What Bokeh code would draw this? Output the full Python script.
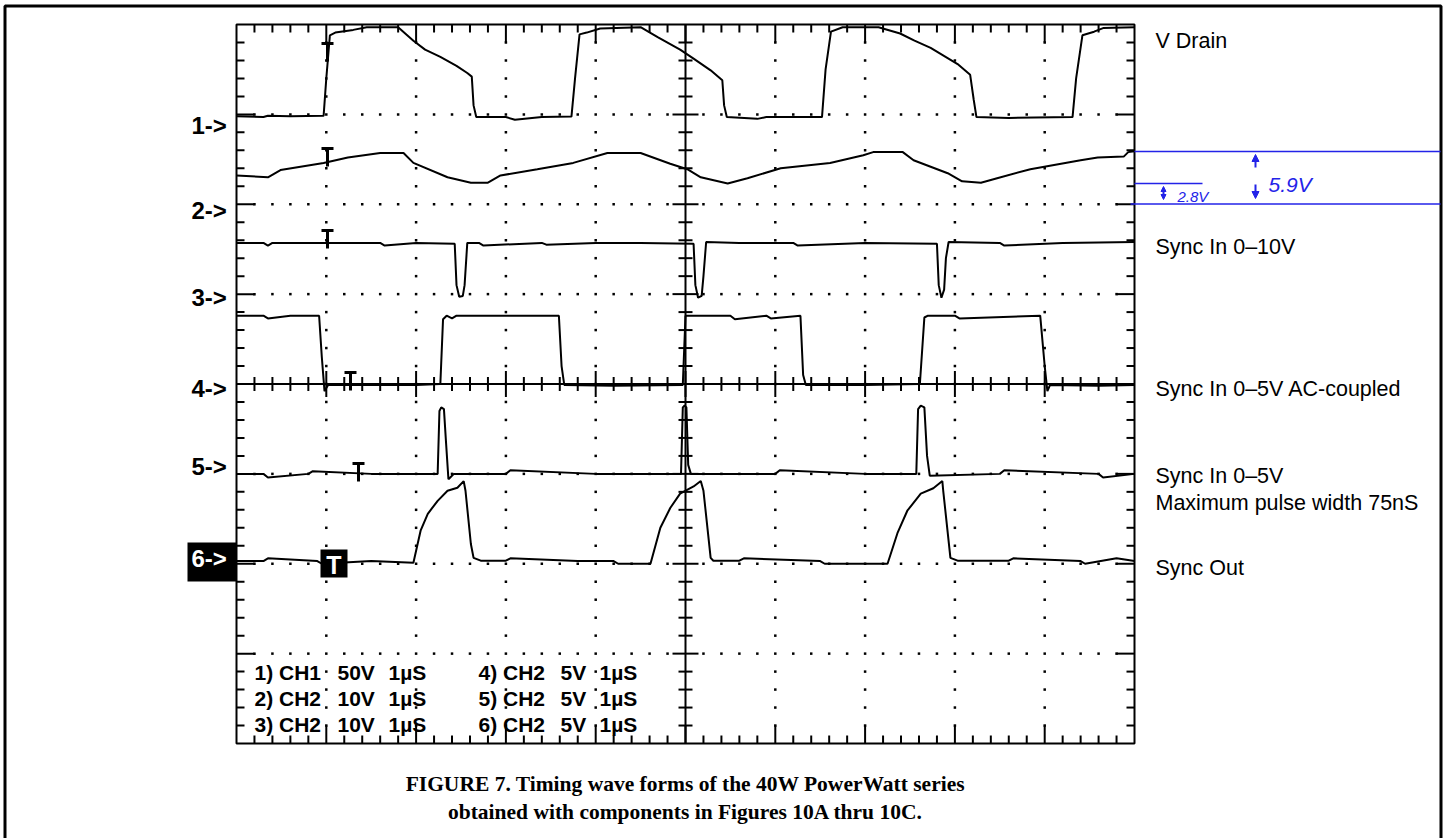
import numpy as np
from bokeh.plotting import figure
from bokeh.models import Range1d, Label, Arrow, NormalHead
from bokeh.embed import file_html
from bokeh.resources import INLINE

# ---------------- data: time in µs (1 µs/div), amplitude in volts ----------------
VOLTS_PER_DIV = [50, 10, 10, 5, 5, 5]

ch1_t = [0.00, 0.30, 0.35, 0.60, 0.97, 1.00, 1.04, 1.10, 1.30, 1.45, 1.80, 1.97, 2.10, 2.27, 2.45,
         2.57, 2.62, 2.64, 2.67, 3.00, 3.10, 3.40, 3.73, 3.77, 3.82, 3.90, 4.05, 4.50, 4.69, 4.94,
         5.09, 5.28, 5.41, 5.43, 5.46, 5.80, 5.90, 6.52, 6.56, 6.62, 6.75, 7.15, 7.39, 7.55, 7.73,
         8.03, 8.17, 8.21, 8.24, 8.60, 9.31, 9.35, 9.42, 9.55, 9.65, 10.00]
ch1_v = [-1.0, -1.5, -0.8, -1.0, -0.8, 20, 44, 45.5, 47, 48.5, 48.5, 41, 36, 32, 27,
         23, 21, 5, -1.5, -1.5, -3, -1.5, -1.2, 20, 44.5, 45.5, 47.8, 48.5, 43, 36,
         31, 24.5, 19, 5, -1.5, -2.5, -1.5, -1.5, 25, 46, 48.5, 48.5, 45, 41, 37,
         28, 22, 8, -1.5, -2.0, -1.5, 20, 44, 46, 48, 48.5]

ch2_t = [0, 0.35, 0.49, 0.97, 1.24, 1.60, 1.86, 1.97, 2.35, 2.61, 2.80, 2.94, 3.35, 3.75, 4.13,
         4.50, 4.83, 5.02, 5.17, 5.47, 5.69, 6.06, 6.61, 6.98, 7.09, 7.42, 7.54, 7.92, 8.08, 8.29,
         8.47, 8.84, 9.40, 9.59, 9.88, 9.93, 10.0]
ch2_v = [3.2, 3.0, 3.8, 4.6, 5.2, 5.7, 5.7, 4.6, 3.0, 2.4, 2.4, 3.2, 3.9, 4.6, 5.7,
         5.7, 4.5, 3.9, 3.0, 2.3, 2.9, 4.0, 4.6, 5.45, 5.8, 5.8, 4.9, 3.45, 2.55, 2.4,
         2.9, 3.9, 4.9, 5.2, 5.3, 5.8, 5.9]

ch3_t = [0, 0.3, 0.35, 0.4, 1.0, 1.6, 1.65, 2.0, 2.43, 2.45, 2.48, 2.52, 2.54, 2.57, 2.7,
         2.75, 3.4, 3.45, 4.0, 4.5, 5.09, 5.11, 5.14, 5.18, 5.20, 5.23, 5.6, 6.2, 6.25, 7.0,
         7.80, 7.82, 7.85, 7.88, 7.90, 7.93, 8.5, 8.55, 9.2, 10.0]
ch3_v = [5.7, 5.7, 5.4, 5.7, 5.7, 5.7, 5.4, 5.7, 5.6, 1.0, -0.3, -0.2, 1.0, 5.7, 5.7,
         5.4, 5.7, 5.5, 5.7, 5.7, 5.6, 1.0, -0.4, -0.2, 2.0, 5.8, 5.7, 5.7, 5.4, 5.7,
         5.6, 1.0, -0.4, 0.5, 4.0, 5.8, 5.7, 5.4, 5.7, 5.8]

ch4_t = [0, 0.3, 0.35, 0.6, 0.92, 0.95, 0.98, 1.02, 1.6, 2.0, 2.27, 2.30, 2.34, 2.40, 2.45,
         2.9, 3.59, 3.62, 3.65, 4.2, 4.97, 5.00, 5.5, 5.55, 5.9, 5.95, 6.28, 6.31, 6.34, 7.0,
         7.61, 7.66, 7.70, 8.0, 8.05, 8.95, 9.00, 9.03, 9.06, 9.6, 10.0]
ch4_v = [3.8, 3.8, 3.65, 3.8, 3.8, 1.5, -0.4, -0.05, -0.05, -0.05, 0.0, 3.6, 3.8, 3.65, 3.8,
         3.8, 3.8, 1.0, -0.05, -0.1, -0.05, 3.8, 3.8, 3.6, 3.8, 3.65, 3.8, 0.5, -0.05, -0.05,
         0.0, 3.7, 3.8, 3.8, 3.65, 3.8, 1.0, -0.4, -0.05, -0.1, -0.05]

ch5_t = [0, 0.3, 0.35, 0.8, 0.85, 1.5, 2.24, 2.26, 2.28, 2.31, 2.33, 2.36, 2.38, 2.42, 3.0,
         3.05, 4.0, 4.95, 4.97, 4.99, 5.01, 5.03, 5.06, 6.0, 6.05, 7.0, 7.57, 7.59, 7.62, 7.66,
         7.69, 7.72, 8.5, 8.55, 9.6, 9.65, 10.0]
ch5_v = [0.0, 0.0, -0.2, 0.0, 0.15, 0.0, 0.0, 3.5, 3.7, 3.6, 2.0, -0.3, -0.2, 0.0, 0.0,
         0.2, 0.0, 0.0, 3.7, 3.8, 3.7, 0.5, 0.0, 0.0, 0.2, 0.0, 0.0, 3.6, 3.8, 3.7,
         1.0, -0.1, 0.0, 0.2, 0.0, -0.2, 0.0]

ch6_t = [0, 0.3, 0.35, 0.9, 0.95, 1.5, 1.97, 2.05, 2.13, 2.24, 2.35, 2.46, 2.53, 2.55, 2.61,
         2.64, 2.72, 3.0, 3.05, 3.8, 4.2, 4.25, 4.61, 4.72, 4.83, 4.94, 5.09, 5.17, 5.20, 5.28,
         5.31, 5.6, 5.65, 6.5, 6.55, 7.25, 7.36, 7.47, 7.62, 7.76, 7.86, 7.87, 7.95, 8.03, 8.6,
         8.65, 9.4, 9.45, 9.8, 10.0]
ch6_v = [0.15, 0.15, 0.3, 0.15, 0.0, 0.15, 0.06, 1.84, 2.78, 3.5, 4.06, 4.23, 4.6, 4.06, 1.1,
         0.33, 0.17, 0.17, 0.3, 0.15, 0.15, 0.0, 0.0, 2.0, 3.1, 3.9, 4.3, 4.6, 4.06, 0.33,
         0.17, 0.17, 0.3, 0.15, 0.0, 0.0, 1.7, 2.95, 3.9, 4.2, 4.6, 4.06, 0.33, 0.17, 0.17,
         0.3, 0.15, 0.0, 0.3, 0.15]

CH_T = [ch1_t, ch2_t, ch3_t, ch4_t, ch5_t, ch6_t]
CH_V = [ch1_v, ch2_v, ch3_v, ch4_v, ch5_v, ch6_v]

MARKER_LABELS = ["1->", "2->", "3->", "4->", "5->", "6->"]
RIGHT_LABELS = ["V Drain", "Sync In 0\u201310V", "Sync In 0\u20135V AC-coupled",
                "Sync In 0\u20135V", "Maximum pulse width 75nS", "Sync Out"]
SET_NAMES = ["1) CH1", "2) CH2", "3) CH2", "4) CH2", "5) CH2", "6) CH2"]
SET_VOLTS = ["50V", "10V", "10V", "5V", "5V", "5V"]
SET_TIME = ["1\u00b5S"] * 6
CAPTION = ["FIGURE 7. Timing wave forms of the 40W PowerWatt series",
           "obtained with components in Figures 10A thru 10C."]
DELTA_BIG, DELTA_SMALL = "5.9V", "2.8V"

# ---------------- layout ----------------
W, H = 1445, 838
SCR_L, SCR_T = 236.0, 24.0          # top-left pixel of the graticule
DX, DY = 89.8, 89.875               # pixels per division
NX, NY = 10, 8
CH_GROUND = [7, 6, 5, 4, 3, 2]      # division row of each channel marker
BLUE = "#2323e8"
INK = "#000000"


def px(x):
    return (x - SCR_L) / DX


def py(y):
    return (SCR_T + NY * DY - y) / DY


p = figure(width=W, height=H, x_range=Range1d(px(0), px(W)), y_range=Range1d(py(H), py(0)),
           x_axis_type=None, y_axis_type=None, toolbar_location=None, output_backend="svg",
           min_border=0, min_border_left=0, min_border_right=0, min_border_top=0,
           min_border_bottom=0, outline_line_color=None,
           background_fill_color="white", border_fill_color="white")

# outer page frame (open at the bottom)
p.line([px(4.5), px(4.5), px(1440.5), px(1440.5)], [py(H + 10), py(5.5), py(5.5), py(H + 10)],
       line_color=INK, line_width=3)

# dotted graticule
gx_, gy_ = [], []
for gx in range(1, NX):
    if gx == NX // 2:
        continue
    for k in range(1, NY * 5):
        gx_.append(gx)
        gy_.append(k * 0.2)
for gy in range(1, NY):
    if gy == NY // 2:
        continue
    for k in range(1, NX * 5):
        if k % 5 == 0:
            continue
        gx_.append(k * 0.2)
        gy_.append(gy)
p.scatter(gx_, gy_, marker="square", size=2.5, fill_color=INK, line_width=0)

# tick marks on edges and centre axes
x0, y0, x1, y1 = [], [], [], []
for k in range(1, NX * 5):
    x = k * 0.2
    L = (18 if k % 5 == 0 else 8) / DY
    c = (13 if k % 5 == 0 else 7) / DY
    x0 += [x, x, x]
    x1 += [x, x, x]
    y0 += [NY, 0, NY / 2 - c]
    y1 += [NY - L, L, NY / 2 + c]
for k in range(1, NY * 5):
    y = k * 0.2
    L = (18 if k % 5 == 0 else 8) / DX
    c = (13 if k % 5 == 0 else 7) / DX
    y0 += [y, y, y]
    y1 += [y, y, y]
    x0 += [0, NX, NX / 2 - c]
    x1 += [L, NX - L, NX / 2 + c]
p.segment(x0, y0, x1, y1, line_color=INK, line_width=2)

# centre axes and border
p.segment([NX / 2, 0], [0, NY / 2], [NX / 2, NX], [NY, NY / 2], line_color=INK, line_width=2)
p.quad(left=0, right=NX, bottom=0, top=NY, fill_color=None, line_color=INK, line_width=2)

# traces
for t, v, g, vpd in zip(CH_T, CH_V, CH_GROUND, VOLTS_PER_DIV):
    p.line(t, [g + a / vpd for a in v], line_color=INK, line_width=2)

# trigger "T" markers
T_XPX = [327, 327, 327, 350, 358]
T_YPX = [43, 148, 230, 372, 463]
bx0, by0, bx1, by1 = [], [], [], []
for xx, yy in zip(T_XPX, T_YPX):
    bx0 += [px(xx - 6), px(xx)]
    bx1 += [px(xx + 6), px(xx)]
    by0 += [py(yy), py(yy)]
    by1 += [py(yy), py(yy + 18)]
p.segment(bx0, by0, bx1, by1, line_color=INK, line_width=3)

# channel 6 trigger box
p.quad(left=px(320), right=px(347), top=py(549), bottom=py(577), fill_color="black", line_width=0)
p.add_layout(Label(x=px(333.5), y=py(564), text="T", text_color="white", text_font="Liberation Sans",
                   text_font_style="bold", text_font_size="25px", text_align="center",
                   text_baseline="middle"))

# channel markers
MARK_YPX = [125, 210, 297, 388, 466, 558]
p.quad(left=px(187), right=px(236), top=py(542), bottom=py(581), fill_color="black", line_width=0)
for i, (lab, yy) in enumerate(zip(MARKER_LABELS, MARK_YPX)):
    p.add_layout(Label(x=px(191), y=py(yy), text=lab,
                       text_color="white" if i == 5 else "black",
                       text_font="Liberation Sans", text_font_style="bold",
                       text_font_size="24px", text_baseline="middle"))

# right-hand labels
RIGHT_BASE = [40, 246, 388, 475, 502, 567]
for lab, yy in zip(RIGHT_LABELS, RIGHT_BASE):
    p.add_layout(Label(x=px(1155), y=py(yy), text=lab, text_font="Liberation Sans",
                       text_font_size="21.5px", text_color="black", text_baseline="alphabetic"))

# settings block
SET_BASE = [672, 698, 724]
for i in range(6):
    col = i // 3
    yy = SET_BASE[i % 3]
    xs = [254, 337, 388] if col == 0 else [478, 560, 599]
    for xx, txt in zip(xs, [SET_NAMES[i], SET_VOLTS[i], SET_TIME[i]]):
        p.add_layout(Label(x=px(xx), y=py(yy), text=txt, text_font="Liberation Sans",
                           text_font_style="bold", text_font_size="21px", text_color="black",
                           text_baseline="alphabetic"))

# caption
for txt, yy in zip(CAPTION, [783, 811]):
    p.add_layout(Label(x=px(685), y=py(yy), text=txt, text_font="Liberation Serif",
                       text_font_style="bold", text_font_size="21.5px", text_align="center",
                       text_color="black", text_baseline="alphabetic"))

# blue measurement annotation
p.segment([px(1134), px(1130), px(1134)], [py(151), py(203.5), py(183)],
          [px(1440), px(1440), px(1202)], [py(151), py(203.5), py(183)],
          line_color=BLUE, line_width=1.5)
p.add_layout(Arrow(x_start=px(1255), y_start=py(167), x_end=px(1255), y_end=py(154),
                   line_color=BLUE, line_width=2,
                   end=NormalHead(size=7, fill_color=BLUE, line_color=BLUE)))
p.add_layout(Arrow(x_start=px(1255), y_start=py(184), x_end=px(1255), y_end=py(198),
                   line_color=BLUE, line_width=2,
                   end=NormalHead(size=7, fill_color=BLUE, line_color=BLUE)))
p.add_layout(Arrow(x_start=px(1163), y_start=py(186), x_end=px(1163), y_end=py(199),
                   line_color=BLUE, line_width=2,
                   start=NormalHead(size=5, fill_color=BLUE, line_color=BLUE),
                   end=NormalHead(size=5, fill_color=BLUE, line_color=BLUE)))
p.add_layout(Label(x=px(1268), y=py(184), text=DELTA_BIG, text_font="Liberation Sans",
                   text_font_style="italic", text_font_size="21px", text_color=BLUE,
                   text_baseline="alphabetic"))
p.add_layout(Label(x=px(1177), y=py(196), text=DELTA_SMALL, text_font="Liberation Sans",
                   text_font_style="italic", text_font_size="15px", text_color=BLUE,
                   text_baseline="alphabetic"))

open("out.html", "w").write(file_html(p, INLINE))
